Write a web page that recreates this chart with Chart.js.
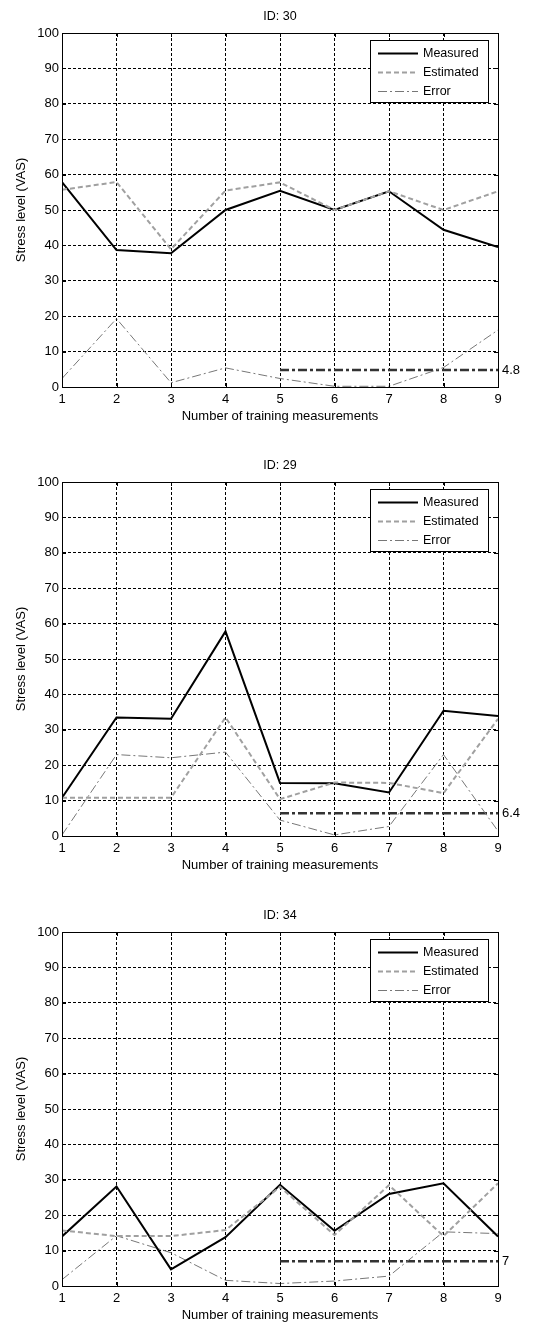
<!DOCTYPE html>
<html>
<head>
<meta charset="utf-8">
<script src="https://cdn.jsdelivr.net/npm/chart.js@4"></script>
<style>
  body { margin: 0; background: #fff; width: 541px; height: 1323px; position: relative; overflow: hidden; }
  canvas { position: absolute; left: 0; }
</style>
</head>
<body>
<canvas id="id30" width="541" height="424" style="top:0px"></canvas>
<canvas id="id29" width="541" height="424" style="top:449px"></canvas>
<canvas id="id34" width="541" height="424" style="top:899px"></canvas>
<script>
/* Values. */
const trainingCounts = [1, 2, 3, 4, 5, 6, 7, 8, 9];
const stressTicks = [0, 10, 20, 30, 40, 50, 60, 70, 80, 90, 100];

const measured30 = [57.9, 38.7, 37.8, 50, 55.4, 50, 55.3, 44.4, 39.5];
const estimated30 = [55.7, 57.9, 38.9, 55.5, 57.8, 50, 55.3, 50, 55.3];
const error30 = [2.4, 19.3, 1.2, 5.4, 2.4, 0.2, 0.2, 5.5, 16.1];
const mean30 = 4.8;

const measured29 = [10.8, 33.5, 33.1, 57.8, 15, 14.9, 12.3, 35.4, 33.9];
const estimated29 = [10.8, 10.8, 10.8, 33.5, 10.4, 15.1, 15, 12.1, 33.1];
const error29 = [0.3, 23, 22.1, 23.7, 4.5, 0.3, 2.7, 23, 1.4];
const mean29 = 6.4;

const measured34 = [14, 28.1, 4.7, 13.8, 28.6, 15.6, 26, 29, 14];
const estimated34 = [15.7, 14.1, 14.1, 15.8, 28, 14.4, 28.5, 14.1, 29];
const error34 = [1.8, 14.2, 9.4, 1.6, 0.7, 1.4, 2.8, 15.3, 14.8];
const mean34 = 7;

const meanFrom = 5;

const fontFamily = "'Liberation Sans', Arial, sans-serif";
Chart.defaults.font.family = fontFamily;
Chart.defaults.font.size = 13;
Chart.defaults.color = '#000';

function toPoints(values) {
	return values.map((v, i) => ({ x: trainingCounts[i], y: v }));
}

// Title, box, inner tick marks, legend and mean label, drawn the MATLAB way
const matlabFrame = {
	id: 'matlabFrame',
	afterDraw(chart, args, opts) {
		const { ctx, chartArea: a, scales } = chart;
		const x = scales.x, y = scales.y;
		ctx.save();
		ctx.setLineDash([]);
		ctx.strokeStyle = '#000';
		ctx.lineWidth = 1;
		ctx.strokeRect(a.left + 0.5, a.top + 0.5, a.width, a.height);

		ctx.beginPath();
		trainingCounts.forEach((v) => {
			const px = Math.round(x.getPixelForValue(v)) + 0.5;
			ctx.moveTo(px, a.bottom); ctx.lineTo(px, a.bottom - 4);
			ctx.moveTo(px, a.top); ctx.lineTo(px, a.top + 4);
		});
		stressTicks.forEach((v) => {
			const py = Math.round(y.getPixelForValue(v)) + 0.5;
			ctx.moveTo(a.left, py); ctx.lineTo(a.left + 4, py);
			ctx.moveTo(a.right, py); ctx.lineTo(a.right - 4, py);
		});
		ctx.stroke();

		// title over the plot area
		ctx.fillStyle = '#000';
		ctx.font = '12.5px ' + fontFamily;
		ctx.textAlign = 'center';
		ctx.textBaseline = 'middle';
		ctx.fillText(opts.title, (a.left + a.right) / 2, 17);

		// legend box
		const bx = a.right - 128, by = a.top + 7, bw = 118, bh = 62;
		ctx.fillStyle = '#fff';
		ctx.fillRect(bx, by, bw, bh);
		ctx.strokeRect(bx + 0.5, by + 0.5, bw, bh);
		ctx.textAlign = 'left';
		chart.data.datasets.slice(0, 3).forEach((ds, i) => {
			const ly = by + 13.5 + i * 19;
			ctx.strokeStyle = ds.borderColor;
			ctx.lineWidth = ds.borderWidth;
			ctx.setLineDash(ds.borderDash || []);
			ctx.beginPath();
			ctx.moveTo(bx + 8, ly); ctx.lineTo(bx + 48, ly);
			ctx.stroke();
			ctx.fillStyle = '#000';
			ctx.fillText(ds.label, bx + 53, ly);
		});

		// mean value label at the right end of the mean line
		const meanSet = chart.data.datasets[3];
		const end = meanSet.data[meanSet.data.length - 1];
		ctx.font = '13px ' + fontFamily;
		ctx.fillStyle = '#000';
		ctx.fillText(opts.label, a.right + 4, y.getPixelForValue(end.y));
		ctx.restore();
	},
};

function makeChart(canvasId, title, measured, estimated, error, mean) {
	const ctx = document.getElementById(canvasId).getContext('2d');
	return new Chart(ctx, {
		type: 'line',
		data: {
			datasets: [
				{
					label: 'Measured',
					data: toPoints(measured),
					borderColor: '#000',
					borderWidth: 2,
					order: 1,
				},
				{
					label: 'Estimated',
					data: toPoints(estimated),
					borderColor: '#a0a0a0',
					borderWidth: 2,
					borderDash: [5, 3],
					order: 0,
				},
				{
					label: 'Error',
					data: toPoints(error),
					borderColor: '#777',
					borderWidth: 1,
					borderDash: [9, 3, 2, 3],
					order: 2,
				},
				{
					label: 'Mean error',
					data: [{ x: meanFrom, y: mean }, { x: trainingCounts[trainingCounts.length - 1], y: mean }],
					borderColor: '#333',
					borderWidth: 2.5,
					borderDash: [9, 3, 3, 3],
					order: 3,
				},
			],
		},
		options: {
			responsive: false,
			animation: false,
			devicePixelRatio: 1,
			layout: { padding: { left: 0, right: 43, top: 33, bottom: 0 } },
			elements: {
				point: { radius: 0, hoverRadius: 0 },
				line: { tension: 0, fill: false },
			},
			scales: {
				x: {
					type: 'linear',
					min: 1,
					max: 9,
					afterFit: (s) => { s.height = 37; },
					ticks: { stepSize: 1, padding: 5, color: '#000' },
					grid: { color: '#000', lineWidth: 1, drawTicks: false },
					border: { display: true, color: '#000', dash: [3, 2] },
					title: {
						display: true,
						text: 'Number of training measurements',
						color: '#000',
						padding: { top: 2, bottom: 0 },
					},
				},
				y: {
					min: 0,
					max: 100,
					afterFit: (s) => { s.width = 62; },
					ticks: { stepSize: 10, padding: 3, color: '#000' },
					grid: { color: '#000', lineWidth: 1, drawTicks: false },
					border: { display: true, color: '#000', dash: [3, 2] },
					title: {
						display: true,
						text: 'Stress level (VAS)',
						color: '#000',
						padding: { top: 14, bottom: 0 },
					},
				},
			},
			plugins: {
				legend: { display: false },
				tooltip: { enabled: false },
				title: { display: false },
				matlabFrame: { title: title, label: String(mean) },
			},
		},
		plugins: [matlabFrame],
	});
}

makeChart('id30', 'ID: 30', measured30, estimated30, error30, mean30);
makeChart('id29', 'ID: 29', measured29, estimated29, error29, mean29);
makeChart('id34', 'ID: 34', measured34, estimated34, error34, mean34);
</script>
</body>
</html>
